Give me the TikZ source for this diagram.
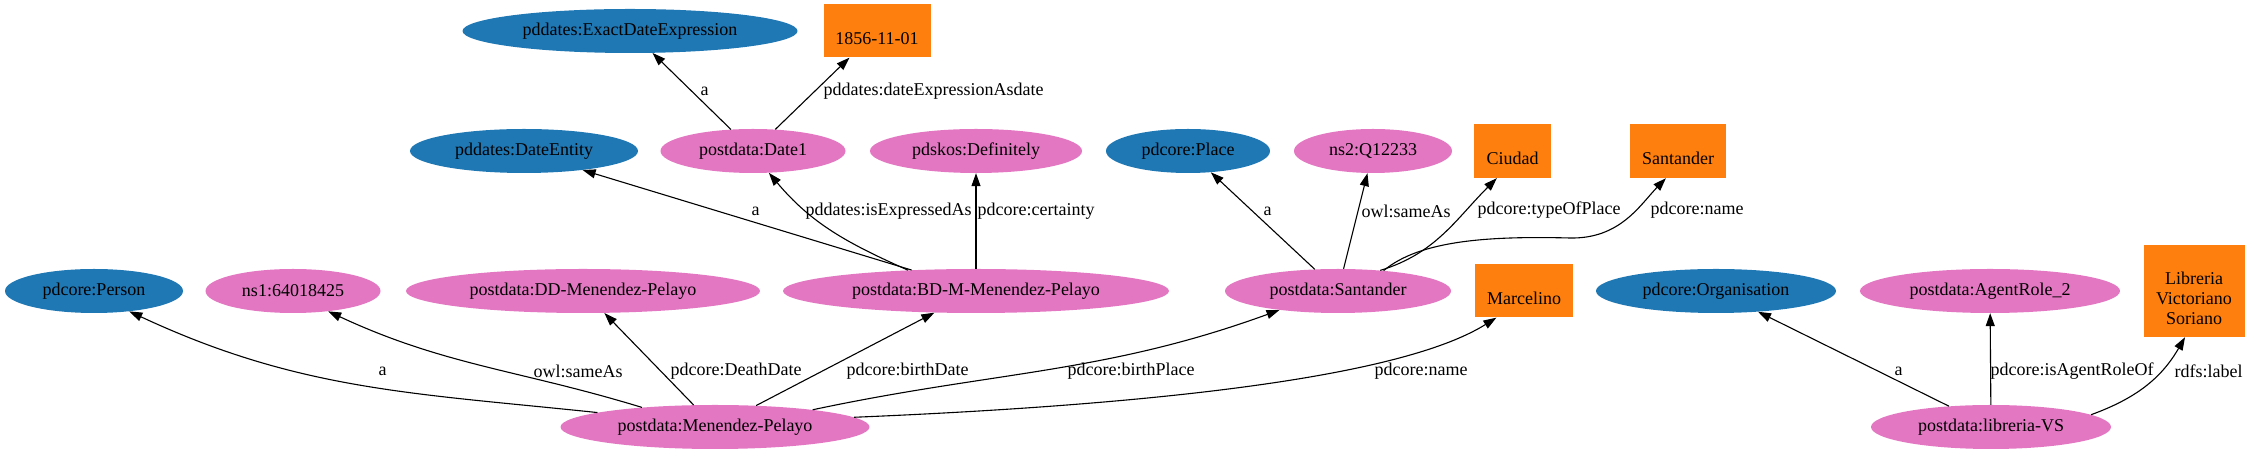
\documentclass[tikz,border=0pt]{standalone}
\usepackage{fontspec}
\setmainfont{Liberation Serif}
\usetikzlibrary{shapes.geometric,arrows.meta}
\definecolor{classblue}{HTML}{1F77B4}
\definecolor{respink}{HTML}{E377C2}
\definecolor{litorange}{HTML}{FF7F0E}

\begin{document}
\begin{tikzpicture}[x=1pt,y=1pt,
  every node/.style={font=\fontsize{18}{20}\selectfont},
  cls/.style={ellipse,fill=classblue,inner sep=0pt,minimum height=44pt},
  res/.style={ellipse,fill=respink,inner sep=0pt,minimum height=44pt},
  lit/.style={rectangle,fill=litorange,inner sep=0pt,align=center,minimum height=54pt},
  edge/.style={-{Triangle[length=13pt,width=9pt]},line width=1.1pt},
  elabel/.style={anchor=west,inner sep=0pt}]
  \useasboundingbox (0,0) rectangle (2247,454);
  \node[cls,minimum width=335pt] (ede) at (630,423) {pddates:ExactDateExpression};
  \node[lit,minimum width=107pt,minimum height=53pt] (d1856) at (877,423) {\strut\\\strut 1856-11-01};
  \node[cls,minimum width=228pt] (dent) at (524,303) {pddates:DateEntity};
  \node[res,minimum width=185pt] (date1) at (753,303) {postdata:Date1};
  \node[res,minimum width=212pt] (defin) at (976,303) {pdskos:Definitely};
  \node[cls,minimum width=164pt] (place) at (1188,303) {pdcore:Place};
  \node[res,minimum width=158pt] (q12233) at (1373,303) {ns2:Q12233};
  \node[lit,minimum width=77pt] (ciudad) at (1512.5,303) {\strut\\\strut Ciudad};
  \node[lit,minimum width=96pt] (santname) at (1678,303) {\strut\\\strut Santander};
  \node[cls,minimum width=178pt] (person) at (94,163) {pdcore:Person};
  \node[res,minimum width=175pt] (ns1) at (293,163) {ns1:64018425};
  \node[res,minimum width=354pt] (ddmp) at (583,163) {postdata:DD-Menendez-Pelayo};
  \node[res,minimum width=386pt] (bdmp) at (976,163) {postdata:BD-M-Menendez-Pelayo};
  \node[res,minimum width=226pt] (sant) at (1338,163) {postdata:Santander};
  \node[lit,minimum width=98pt,minimum height=53pt] (marcel) at (1524,163) {\strut\\\strut Marcelino};
  \node[cls,minimum width=240pt] (org) at (1716,163) {pdcore:Organisation};
  \node[res,minimum width=260pt] (role) at (1990,163) {postdata:AgentRole\_2};
  \node[lit,minimum width=101pt,minimum height=92pt] (libr) at (2194,163) {\strut\\\strut Libreria\\\strut Victoriano\\\strut Soriano};
  \node[res,minimum width=309pt] (mp) at (715,27) {postdata:Menendez-Pelayo};
  \node[res,minimum width=240pt] (lvs) at (1991,27) {postdata:libreria-VS};

  \draw[edge] (date1) -- (ede) node[elabel] (la1) at (700,363) {a};
  \draw[edge] (date1) -- (d1856) node[elabel] (ldexp) at (823,363) {pddates:dateExpressionAsdate};
  \draw[edge] (bdmp.162) -- (dent.-18) node[elabel] (la2) at (751,243) {a};
  \draw[edge] (bdmp.163) to[out=156,in=-50] (date1.-54) node[elabel] (lisexp) at (805,243) {pddates:isExpressedAs};
  \draw[edge] (bdmp) -- (defin) node[elabel] (lcert) at (977,243) {pdcore:certainty};
  \draw[edge] (sant) -- (place) node[elabel] (la3) at (1263,243) {a};
  \draw[edge] (sant) -- (q12233) node[elabel] (lsame2) at (1361,243) {owl:sameAs};
  \draw[edge] (sant.26) to[out=17,in=225] (ciudad.-120) node[elabel] (ltype) at (1477,244) {pdcore:typeOfPlace};
  \draw[edge] (sant.24) .. controls (1420,214) and (1490,218) .. (1570,216) .. controls (1620,215) and (1640,249) .. (santname.-114) node[elabel] (lsname) at (1650,244) {pdcore:name};
  \draw[edge] (mp.173) to[out=174,in=-25] (person.-30) node[elabel] (la4) at (378,83) {a};
  \draw[edge] (mp.165) to[out=163,in=-25] (ns1.-30) node[elabel] (lsame1) at (533,83) {owl:sameAs};
  \draw[edge] (mp) -- (ddmp) node[elabel] (ldeath) at (670,83) {pdcore:DeathDate};
  \draw[edge] (mp) -- (bdmp) node[elabel] (lbdate) at (846,83) {pdcore:birthDate};
  \draw[edge] (mp.10) to[out=12,in=200] (sant.-162) node[elabel] (lbplace) at (1067,83) {pdcore:birthPlace};
  \draw[edge] (mp.4) .. controls (1150,49) and (1400,76) .. (marcel.-136) node[elabel] (lname) at (1374,83) {pdcore:name};
  \draw[edge] (lvs) -- (org) node[elabel] (la5) at (1894,83) {a};
  \draw[edge] (lvs) -- (role) node[elabel] (lrole) at (1990,83) {pdcore:isAgentRoleOf};
  \draw[edge] (lvs.7) to[out=20,in=-120] (libr.-101) node[elabel] (lrdfs) at (2174,83) {rdfs:label};
\end{tikzpicture}
\end{document}
